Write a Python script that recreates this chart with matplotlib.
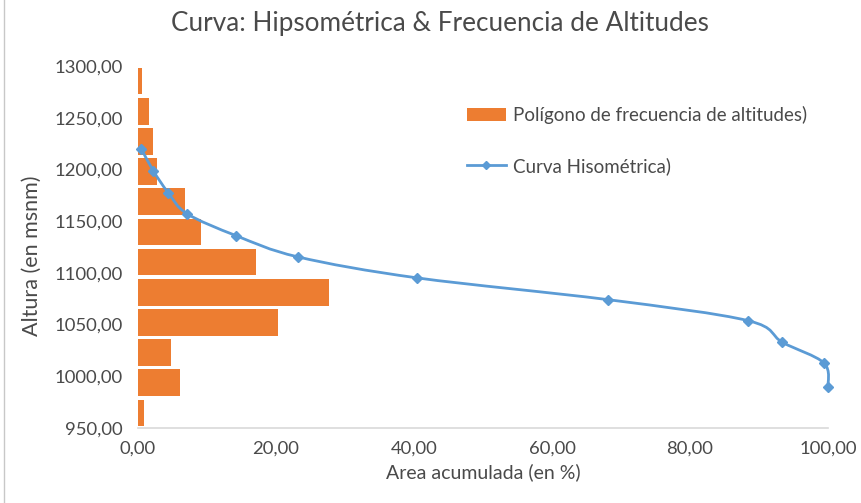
import matplotlib
matplotlib.use("Agg")
import matplotlib.pyplot as plt
from matplotlib.path import Path
from matplotlib.patches import PathPatch, Patch
from matplotlib.lines import Line2D
from matplotlib.ticker import FuncFormatter, MultipleLocator
import numpy as np

plt.rcParams['font.family'] = ['Lato', 'DejaVu Sans']

# ---- data ----
bar_values = [0.8, 6.1, 4.8, 20.3, 27.7, 17.1, 9.1, 6.8, 2.7, 2.2, 1.6, 0.6]  # bottom -> top
curve_area = [0.5, 2.2, 4.4, 7.1, 14.2, 23.2, 40.5, 68.1, 88.4, 93.4, 99.4, 100.0]
curve_alt = [1219.8, 1198.8, 1177.3, 1157.2, 1136.0, 1115.4, 1095.1, 1074.1,
             1053.8, 1032.8, 1012.9, 989.7]
title = "Curva: Hipsométrica & Frecuencia de Altitudes"
xlabel = "Area acumulada (en %)"
ylabel = "Altura (en msnm)"
bar_label = "Polígono de frecuencia de altitudes)"
line_label = "Curva Hisométrica)"

ORANGE = "#ED7D31"
BLUE = "#5B9BD5"
TXT = "#4A4A4A"

fig = plt.figure(figsize=(8.62, 5.03), dpi=100)
ax = fig.add_axes([0.1601, 0.1491, 0.8005, 0.7197])
ax2 = ax.twinx()

# bars on categorical secondary axis
cats = np.arange(len(bar_values))
ax2.barh(cats, bar_values, height=0.88, color=ORANGE, zorder=1)
ax2.set_ylim(-0.5, len(bar_values) - 0.5)
ax2.set_yticks([])
for s in ax2.spines.values():
    s.set_visible(False)

ax.set_zorder(ax2.get_zorder() + 1)
ax.patch.set_visible(False)

ax.set_xlim(0, 100)
ax.set_ylim(950, 1300)

# smoothed curve (Catmull-Rom -> Bezier in axes coords)
xs = np.array(curve_area) / 100.0
ys = (np.array(curve_alt) - 950) / 350.0
pts = np.column_stack([xs, ys])
verts = [pts[0]]
codes = [Path.MOVETO]
n = len(pts)
for i in range(n - 1):
    p0 = pts[i - 1] if i > 0 else pts[i]
    p1 = pts[i]
    p2 = pts[i + 1]
    p3 = pts[i + 2] if i + 2 < n else pts[i + 1]
    c1 = p1 + (p2 - p0) / 6.0
    c2 = p2 - (p3 - p1) / 6.0
    verts += [c1, c2, p2]
    codes += [Path.CURVE4] * 3
ax.add_patch(PathPatch(Path(verts, codes), transform=ax.transAxes,
                       fill=False, edgecolor=BLUE, lw=2.0, zorder=3, clip_on=False))
ax.plot(curve_area, curve_alt, linestyle='none', marker='D', markersize=5,
        color=BLUE, zorder=4, clip_on=False)

fmt = FuncFormatter(lambda v, p: f"{v:.2f}".replace('.', ','))
ax.xaxis.set_major_formatter(fmt)
ax.yaxis.set_major_formatter(fmt)
ax.xaxis.set_major_locator(MultipleLocator(20))
ax.yaxis.set_major_locator(MultipleLocator(50))
ax.tick_params(axis='both', length=0, labelsize=13.3, colors=TXT)
ax.tick_params(axis='x', pad=9)
ax.tick_params(axis='y', pad=11)
for k in ('top', 'right', 'left'):
    ax.spines[k].set_visible(False)
ax.spines['bottom'].set_color('#D9D9D9')
ax.spines['bottom'].set_linewidth(1.2)

ax.set_xlabel(xlabel, fontsize=14, color=TXT, labelpad=5)
ax.set_ylabel(ylabel, fontsize=15.5, color=TXT)
ax.yaxis.set_label_coords((42 - 138) / (828 - 138), (428 - 256) / (428 - 66))
fig.text(440 / 862, 1 - 23 / 503, title, ha='center', va='center', fontsize=18.8, color=TXT)

handles = [Patch(facecolor=ORANGE, edgecolor='none'),
           Line2D([0], [0], color=BLUE, lw=2, marker='D', markersize=4)]
leg = fig.legend(handles, [bar_label, line_label], loc='upper left',
                 bbox_to_anchor=(467 / 862, 1 - 106 / 503), frameon=False, fontsize=13.5,
                 labelspacing=1.75, handlelength=2.08, handletextpad=0.35,
                 borderpad=0, borderaxespad=0)
for t in leg.get_texts():
    t.set_color(TXT)

fig.add_artist(Line2D([4 / 862, 4 / 862], [0, 1], color='#C8C8C8', lw=1))

fig.savefig("out.png", dpi=100)
